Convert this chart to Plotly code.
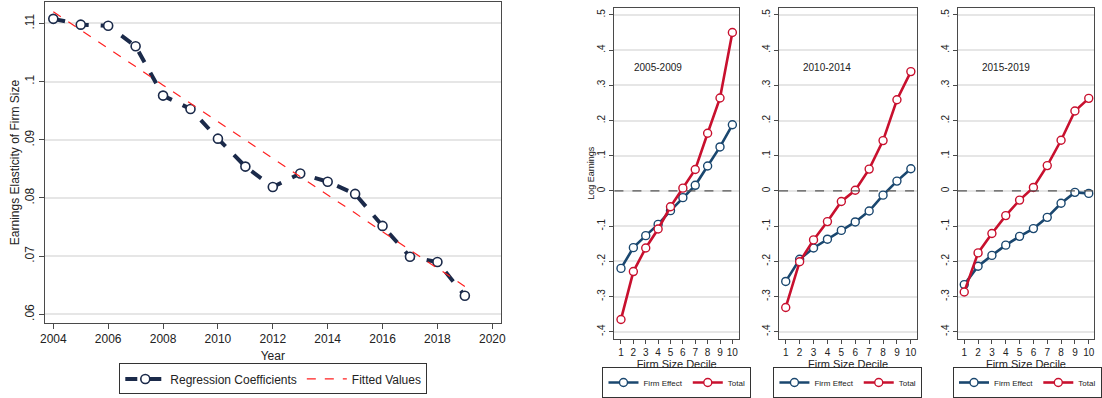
import plotly.graph_objects as go

# ---------------- data ----------------
years = [2004, 2005, 2006, 2007, 2008, 2009, 2010, 2011, 2012, 2013, 2014, 2015, 2016, 2017, 2018, 2019]
reg_coef = [0.1108, 0.1098, 0.1096, 0.1061, 0.0976, 0.0953, 0.0902, 0.0854, 0.0819, 0.0842, 0.0828, 0.0807,
            0.0752, 0.0699, 0.0690, 0.0632]
fitted = [0.1120, 0.1089, 0.1057, 0.1026, 0.0994, 0.0963, 0.0931, 0.0900, 0.0868, 0.0837, 0.0805, 0.0774,
          0.0742, 0.0711, 0.0679, 0.0648]

deciles = [1, 2, 3, 4, 5, 6, 7, 8, 9, 10]
p1_firm = [-0.220, -0.161, -0.127, -0.095, -0.056, -0.019, 0.016, 0.071, 0.125, 0.188]
p1_total = [-0.365, -0.229, -0.162, -0.108, -0.045, 0.008, 0.061, 0.164, 0.264, 0.450]
p2_firm = [-0.257, -0.194, -0.162, -0.137, -0.112, -0.088, -0.057, -0.012, 0.028, 0.063]
p2_total = [-0.331, -0.201, -0.139, -0.087, -0.030, 0.002, 0.062, 0.143, 0.259, 0.339]
p3_firm = [-0.266, -0.214, -0.183, -0.154, -0.129, -0.107, -0.075, -0.035, -0.004, -0.007]
p3_total = [-0.287, -0.176, -0.121, -0.070, -0.026, 0.010, 0.072, 0.144, 0.227, 0.263]
periods = ["2005-2009", "2010-2014", "2015-2019"]

left_yticks = [0.06, 0.07, 0.08, 0.09, 0.10, 0.11]
left_yticktext = [".06", ".07", ".08", ".09", ".1", ".11"]
year_ticks = [2004, 2006, 2008, 2010, 2012, 2014, 2016, 2018, 2020]
right_yticks = [-0.4, -0.3, -0.2, -0.1, 0, 0.1, 0.2, 0.3, 0.4, 0.5]
right_yticktext = ["-.4", "-.3", "-.2", "-.1", "0", ".1", ".2", ".3", ".4", ".5"]

# ---------------- styling ----------------
W, H = 1102, 398
FONT = "Liberation Sans, Arial, sans-serif"
NAVY = "#1b2a4a"
BLUE = "#1a476f"
RED = "#c8102e"
FRAME = "#4a4a4a"
GRID = "#e6e6e6"


def px_x(a, b):
    return [a / W, min(b / W, 1.0)]


def px_y(top, bottom):
    return [1 - bottom / H, 1 - top / H]


fig = go.Figure()

# Left chart
fig.add_trace(go.Scatter(
    x=years, y=reg_coef, mode="lines+markers", name="Regression Coefficients",
    line=dict(color=NAVY, width=4, dash="dash"),
    marker=dict(symbol="circle", size=9, color="white", line=dict(color=NAVY, width=1.6)),
    xaxis="x", yaxis="y", legend="legend"))
fig.add_trace(go.Scatter(
    x=years, y=fitted, mode="lines", name="Fitted Values",
    line=dict(color="#ff2020", width=1.2, dash="dash"),
    xaxis="x", yaxis="y", legend="legend"))

panels = [(p1_firm, p1_total), (p2_firm, p2_total), (p3_firm, p3_total)]
for i, (fe, tot) in enumerate(panels):
    ax = str(i + 2)
    lg = "legend" + ax
    fig.add_trace(go.Scatter(
        x=deciles, y=fe, mode="lines+markers", name="Firm Effect",
        line=dict(color=BLUE, width=2.6),
        marker=dict(symbol="circle", size=8, color="white", line=dict(color=BLUE, width=1.4)),
        xaxis="x" + ax, yaxis="y" + ax, legend=lg))
    fig.add_trace(go.Scatter(
        x=deciles, y=tot, mode="lines+markers", name="Total",
        line=dict(color=RED, width=2.6),
        marker=dict(symbol="circle", size=8, color="white", line=dict(color=RED, width=1.4)),
        xaxis="x" + ax, yaxis="y" + ax, legend=lg))

common_axis = dict(showline=True, linecolor=FRAME, linewidth=1, mirror=True, ticks="outside",
                   tickcolor=FRAME, zeroline=False, tickfont=dict(family=FONT, color="#222"))

layout = dict(
    width=W, height=H, margin=dict(l=0, r=0, t=0, b=0),
    paper_bgcolor="white", plot_bgcolor="white",
    font=dict(family=FONT, color="#222"),
    xaxis=dict(common_axis, domain=px_x(40, 502), range=[2003.68, 2020.32], tickvals=year_ticks,
               ticklen=5, showgrid=False, tickfont=dict(family=FONT, size=12, color="#222"),
               title=dict(text="Year", font=dict(size=12), standoff=6), anchor="y"),
    yaxis=dict(common_axis, domain=px_y(2, 328), range=[0.0585, 0.1137], tickvals=left_yticks,
               ticktext=left_yticktext, tickangle=-90, ticklen=5, showgrid=True, gridcolor=GRID,
               gridwidth=2, tickfont=dict(family=FONT, size=12, color="#222"),
               title=dict(text="Earnings Elasticity of Firm Size", font=dict(size=12), standoff=0),
               anchor="x"),
    legend=dict(orientation="h", x=271.5 / W, y=1 - 369 / H, xanchor="center", yanchor="top",
                bordercolor="#333", borderwidth=1, font=dict(family=FONT, size=12, color="#222"),
                itemwidth=40, tracegroupgap=0),
)

panel_x = [(616.7, 742.7, [0.47, 10.53]), (783.3, 923, [0.52, 10.45]), (964.3, 1103.7, [0.543, 10.38])]
legend_cx = [680, 853, 1035]
for i, (a, b, rng) in enumerate(panel_x):
    ax = str(i + 2)
    layout["xaxis" + ax] = dict(common_axis, domain=px_x(a, min(b, W)), range=rng, tickvals=deciles,
                                ticklen=4, showgrid=False,
                                tickfont=dict(family=FONT, size=10, color="#222"),
                                title=dict(text="Firm Size Decile", font=dict(size=11), standoff=0),
                                anchor="y" + ax)
    layout["yaxis" + ax] = dict(common_axis, domain=px_y(8, 344), range=[-0.42, 0.52],
                                tickvals=right_yticks, ticktext=right_yticktext, tickangle=-90,
                                ticklen=4, showgrid=True, gridcolor=GRID, gridwidth=1.5,
                                tickfont=dict(family=FONT, size=10, color="#222"),
                                anchor="x" + ax)
    if i == 0:
        layout["yaxis" + ax]["title"] = dict(text="Log Earnings", font=dict(size=9), standoff=0)
    layout["legend" + ax] = dict(orientation="h", x=legend_cx[i] / W, y=1 - 373 / H, xanchor="center",
                                 yanchor="top", bordercolor="#333", borderwidth=1,
                                 font=dict(family=FONT, size=8, color="#222"), itemwidth=30,
                                 tracegroupgap=0)

fig.update_layout(**layout)

# zero reference lines and period labels
for i in range(3):
    ax = str(i + 2)
    fig.add_shape(type="line", xref="x" + ax + " domain", yref="y" + ax, x0=0, x1=1, y0=0, y1=0,
                  line=dict(color="#555", width=1.2, dash="dash"))
    fig.add_annotation(xref="x" + ax, yref="y" + ax, x=4, y=0.35, text=periods[i], showarrow=False,
                       font=dict(family=FONT, size=10, color="#222"))

fig.write_html("out.html")
